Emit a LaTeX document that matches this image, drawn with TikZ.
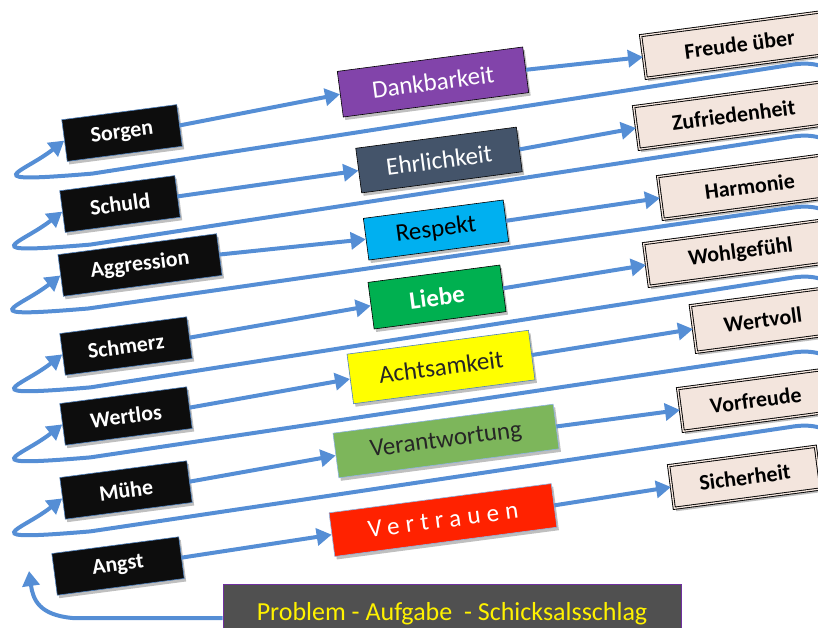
\documentclass[tikz,border=0pt]{standalone}
\usepackage{fontspec}
\setmainfont{Carlito}
\usetikzlibrary{arrows.meta,calc,shadows}
\definecolor{arr}{HTML}{558ED5}
\definecolor{lblue}{HTML}{4F81BD}
\definecolor{rfill}{HTML}{F3E5DD}
\definecolor{cdank}{HTML}{8244AA}
\definecolor{cehr}{HTML}{44546A}
\definecolor{cresp}{HTML}{00B0F0}
\definecolor{clieb}{HTML}{00B050}
\definecolor{cacht}{HTML}{FFFF00}
\definecolor{cver}{HTML}{7DB65B}
\definecolor{cvert}{HTML}{FF2200}
\definecolor{cprob}{HTML}{505050}
\definecolor{cpurp}{HTML}{7030A0}
\definecolor{ctext}{HTML}{262626}
\definecolor{ltblue}{HTML}{8DB3E2}
\begin{document}
\begin{tikzpicture}[x=1pt,y=-1pt,
  shad/.style={drop shadow={shadow xshift=2pt,shadow yshift=-3pt,opacity=0.25,fill=black}},
  lbox/.style={rotate=7.5, fill=black!95, draw=lblue, line width=0.6pt, text=white,
    font=\fontsize{22}{22}\selectfont\bfseries, minimum height=42pt, inner sep=0pt, shad},
  mbox/.style={rotate=7.5, draw=black, line width=0.6pt,
    font=\fontsize{25}{25}\selectfont, inner sep=0pt, shad},
  rbox/.style={rotate=7.5, anchor=west, fill=rfill, draw=black, double=rfill,
    double distance=1.3pt, line width=0.9pt, text=black,
    font=\fontsize{22}{22}\selectfont\bfseries, minimum height=43pt, inner sep=0pt, shad},
  conn/.style={draw=arr, line width=4pt, -{Triangle[length=15pt,width=17pt]}},
  pbox/.style={fill=cprob, draw=cpurp, line width=1pt, text=yellow,
    font=\fontsize{26}{26}\selectfont, inner sep=0pt, text height=19pt, text depth=6pt}
]
\useasboundingbox (0,0) rectangle (818,627);
\clip (0,0) rectangle (818,627);

% left boxes
\node[lbox, minimum width=116pt] (L1) at (122,133) {Sorgen};
\node[lbox, minimum width=116pt] (L2) at (120,204) {Schuld};
\node[lbox, minimum width=160pt] (L3) at (140,265) {Aggression};
\node[lbox, minimum width=128pt] (L4) at (126,346) {Schmerz};
\node[lbox, minimum width=128pt] (L5) at (126,416) {Wertlos};
\node[lbox, minimum width=128pt] (L6) at (126,490) {Mühe};
\node[lbox, minimum width=128pt] (L7) at (118,566) {Angst};

% middle boxes
\node[mbox, fill=cdank, text=white, minimum width=187pt, minimum height=46pt] (M1) at (433,82) {Dankbarkeit};
\node[mbox, fill=cehr, text=white, minimum width=162pt, minimum height=45pt] (M2) at (439,160) {Ehrlichkeit};
\node[mbox, fill=cresp, text=black, minimum width=141pt, minimum height=42pt] (M3) at (436,230) {Respekt};
\node[mbox, fill=clieb, text=white, font=\fontsize{25}{25}\selectfont\bfseries, minimum width=133pt, minimum height=47pt] (M4) at (437,297) {Liebe};
\node[mbox, fill=cacht, draw=lblue, text=ctext, minimum width=183pt, minimum height=50pt] (M5) at (441,367) {Achtsamkeit};
\node[mbox, fill=cver, draw=ltblue, text=ctext, minimum width=222pt, minimum height=45pt] (M6) at (446,441) {Verantwortung};
\node[mbox, fill=cvert, draw=ltblue, text=white, minimum width=224pt, minimum height=44pt] (M7) at (443,520) {\addfontfeature{LetterSpace=25}Vertrauen};

% right boxes
\node[rbox, minimum width=194pt] (R1) at (643,57) {Freude über};
\node[rbox, minimum width=196pt] (R2) at (636,128) {Zufriedenheit};
\node[rbox, minimum width=180pt] (R3) at (660,198) {Harmonie};
\node[rbox, minimum width=190pt] (R4) at (646,265) {Wohlgefühl};
\node[rbox, minimum width=140pt, minimum height=47pt] (R5) at (693,329) {Wertvoll};
\node[rbox, minimum width=152pt] (R6) at (680,410) {Vorfreude};
\node[rbox, minimum width=148pt] (R7) at (671,487) {Sicherheit};

% bottom box
\node[pbox, minimum width=458pt, minimum height=60pt] (P) at (452,614) {Problem - Aufgabe \ - Schicksalsschlag};

% connectors
\foreach \i in {1,...,7}{
  \draw[conn] (L\i.east) -- (M\i.west);
  \draw[conn] (M\i.east) -- (R\i.west);
}

% return loops
\foreach \i/\r in {1/65,2/137,3/208,4/278,5/353,6/427}{
  \draw[conn] (845,\r+12) .. controls (822,\r-2) and (808,\r-3) .. (790,\r)
    -- ($(L\i.west)+(28,33)$)
    .. controls ($(L\i.west)+(-92,43)$) and ($(L\i.west)+(-42,33)$) .. (L\i.west);
}

% bottom arrow
\coordinate (up) at (29,571);
\draw[conn] ($(P.west)+(0,4)$) -- ++(-150,0) .. controls ++(-33,-3) and (33,600) .. (up);
\end{tikzpicture}
\end{document}
